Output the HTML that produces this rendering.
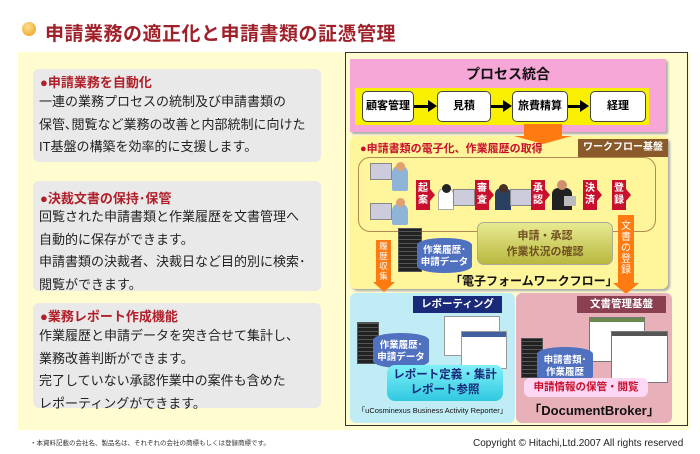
<!DOCTYPE html>
<html><head><meta charset="utf-8"><style>
*{margin:0;padding:0;box-sizing:border-box}
body{width:700px;height:454px;background:#fff;position:relative;overflow:hidden;font-family:"Liberation Sans","Noto Sans CJK JP",sans-serif}
.a{position:absolute}
.gb{background:#e9e9e9;border-radius:6px;left:33px;width:288px}
.h{color:#b0202a;font-weight:bold;font-size:13px;position:absolute;left:7px;white-space:nowrap}
.t{color:#222;font-size:13px;position:absolute;left:6px;line-height:22.5px;white-space:nowrap}
.wb{background:#fff;border:1.5px solid #444;border-radius:5px;font-size:11px;font-weight:bold;text-align:center;line-height:28px;top:91px;height:31px}
.rl{background:#c8102e;color:#fff;font-size:10px;font-weight:bold;width:14px;line-height:12px;text-align:center;padding-top:3px;height:30px;top:180px}
.rl:after{content:"";position:absolute;right:-5px;top:9px;border-left:5px solid #c8102e;border-top:6px solid transparent;border-bottom:6px solid transparent}
.pc{background:#ccd;border:1px solid #888;width:22px;height:17px}
.tw{background:#222;border:1px solid #555;background-image:repeating-linear-gradient(0deg,#222 0 3px,#555 3px 4px)}
</style></head><body>
<div class="a" style="left:22px;top:22px;width:14px;height:14px;border-radius:50%;background:radial-gradient(circle at 40% 35%,#ffe08a,#e89a20)"></div>
<div class="a" style="left:45px;top:19px;font-size:19px;font-weight:bold;color:#a0202a;letter-spacing:0.5px">申請業務の適正化と申請書類の証憑管理</div>
<div class="a" style="left:18px;top:52px;width:672px;height:378px;background:#fffccf"></div>
<div class="a gb" style="top:69px;height:93px"><div class="h" style="top:3px">●申請業務を自動化</div><div class="t" style="top:22px">一連の業務プロセスの統制及び申請書類の<br>保管､閲覧など業務の改善と内部統制に向けた<br>IT基盤の構築を効率的に支援します。</div></div>
<div class="a gb" style="top:181px;height:110px"><div class="h" style="top:7px">●決裁文書の保持･保管</div><div class="t" style="top:25px">回覧された申請書類と作業履歴を文書管理へ<br>自動的に保存ができます。<br>申請書類の決裁者、決裁日など目的別に検索･<br>閲覧ができます。</div></div>
<div class="a gb" style="top:303px;height:105px"><div class="h" style="top:3px">●業務レポート作成機能</div><div class="t" style="top:22px">作業履歴と申請データを突き合せて集計し、<br>業務改善判断ができます。<br>完了していない承認作業中の案件も含めた<br>レポーティングができます。</div></div>
<div class="a" style="left:30px;top:437px;font-size:6.5px;color:#333">・本資料記載の会社名、製品名は、それぞれの会社の商標もしくは登録商標です。</div>
<div class="a" style="left:473px;top:438px;font-size:10px;color:#222">Copyright © Hitachi,Ltd.2007 All rights reserved</div>

<div class="a" style="left:345px;top:52px;width:343px;height:374px;border:1px solid #333;background:#fffccf"></div>
<div class="a" style="left:350px;top:59px;width:316px;height:73px;background:#f7a6d8;box-shadow:2px 2px 2px #aaa"></div>
<div class="a" style="left:350px;top:64px;width:316px;text-align:center;font-size:14px;font-weight:bold;color:#111">プロセス統合</div>
<div class="a" style="left:355px;top:88px;width:294px;height:37px;background:#f8f000"></div>
<div class="a wb" style="left:362px;width:52px">顧客管理</div>
<div class="a wb" style="left:437px;width:54px">見積</div>
<div class="a wb" style="left:512px;width:56px">旅費精算</div>
<div class="a wb" style="left:590px;width:56px">経理</div>
<div class="a" style="left:414px;top:105px;width:16px;height:3px;background:#000"></div><div class="a" style="left:428px;top:100px;border-left:9px solid #000;border-top:6px solid transparent;border-bottom:6px solid transparent"></div>
<div class="a" style="left:491px;top:105px;width:14px;height:3px;background:#000"></div><div class="a" style="left:503px;top:100px;border-left:9px solid #000;border-top:6px solid transparent;border-bottom:6px solid transparent"></div>
<div class="a" style="left:568px;top:105px;width:14px;height:3px;background:#000"></div><div class="a" style="left:580px;top:100px;border-left:9px solid #000;border-top:6px solid transparent;border-bottom:6px solid transparent"></div>

<div class="a" style="left:350px;top:136px;width:318px;height:153px;background:#fff59a;border-radius:6px;box-shadow:2px 2px 2px #aaa"></div>
<div class="a" style="left:524px;top:124px;width:38px;height:14px;background:#ff7a10"></div>
<div class="a" style="left:514px;top:136px;border-top:8px solid #ff7a10;border-left:29px solid transparent;border-right:29px solid transparent"></div>
<div class="a" style="left:360px;top:140px;font-size:11px;font-weight:bold;color:#c8102e">●申請書類の電子化、作業履歴の取得</div>
<div class="a" style="left:578px;top:139px;width:90px;height:18px;background:#8a5a2a;color:#fff;font-size:10px;font-weight:bold;text-align:center;line-height:18px">ワークフロー基盤</div>
<div class="a" style="left:358px;top:157px;width:298px;height:75px;border:1.5px solid #b08a50;border-radius:12px"></div>
<div class="a pc" style="left:370px;top:163px"></div><div class="a" style="left:392px;top:165px;width:16px;height:26px;background:#8fb4d8;border-radius:8px 8px 2px 2px"></div><div class="a" style="left:396px;top:162px;width:9px;height:9px;border-radius:50%;background:#e0a070"></div>
<div class="a pc" style="left:370px;top:203px"></div><div class="a" style="left:392px;top:203px;width:16px;height:22px;background:#8fb4d8;border-radius:8px 8px 2px 2px"></div><div class="a" style="left:396px;top:198px;width:9px;height:9px;border-radius:50%;background:#e0a070"></div>
<div class="a rl" style="left:416px">起案</div>
<div class="a" style="left:438px;top:188px;width:16px;height:22px;background:#fff;border:1px solid #aaa;border-radius:6px 6px 0 0"></div><div class="a" style="left:442px;top:184px;width:9px;height:9px;border-radius:50%;background:#222"></div><div class="a pc" style="left:453px;top:189px"></div>
<div class="a rl" style="left:475px">審査</div>
<div class="a" style="left:495px;top:188px;width:16px;height:22px;background:#2a4060;border-radius:6px 6px 0 0"></div><div class="a" style="left:499px;top:184px;width:9px;height:9px;border-radius:50%;background:#4a3020"></div><div class="a pc" style="left:510px;top:189px"></div>
<div class="a rl" style="left:531px">承認</div>
<div class="a" style="left:552px;top:188px;width:20px;height:22px;background:#222;border-radius:6px 6px 0 0"></div><div class="a" style="left:557px;top:180px;width:10px;height:10px;border-radius:50%;background:#d09070"></div><div class="a" style="left:564px;top:196px;width:12px;height:10px;background:#bbb"></div>
<div class="a rl" style="left:583px">決済</div>
<div class="a rl" style="left:612px">登録</div>
<div class="a" style="left:477px;top:222px;width:136px;height:43px;border-radius:7px;background:linear-gradient(#e8ea90,#b8b840);border:1px solid #aa9;color:#705020;font-size:11px;font-weight:bold;text-align:center;line-height:16px;padding-top:5px">申請・承認<br>作業状況の確認</div>
<div class="a tw" style="left:398px;top:228px;width:24px;height:44px"></div>
<div class="a" style="left:417px;top:238px;width:55px;height:35px;background:#5070c0;border-radius:27px/7px;color:#fff;font-size:9.5px;font-weight:bold;text-align:center;line-height:12px;padding-top:7px">作業履歴･<br>申請データ</div>
<div class="a" style="left:450px;top:272px;font-size:12px;font-weight:bold;color:#111">「電子フォームワークフロー」</div>
<div class="a" style="left:376px;top:240px;width:15px;height:42px;background:#ff7a10;color:#fff;font-size:8.5px;line-height:10px;text-align:center;padding-top:1px">履歴収集</div>
<div class="a" style="left:373px;top:282px;border-top:10px solid #ff7a10;border-left:11px solid transparent;border-right:11px solid transparent"></div>
<div class="a" style="left:618px;top:215px;width:16px;height:68px;background:#ff7a10;color:#fff;font-size:10px;line-height:11px;text-align:center;padding-top:6px">文書の登録</div>
<div class="a" style="left:613px;top:283px;border-top:11px solid #ff7a10;border-left:13px solid transparent;border-right:13px solid transparent"></div>

<div class="a" style="left:350px;top:293px;width:165px;height:130px;background:#c0ecf6;border-radius:6px"></div>
<div class="a" style="left:516px;top:293px;width:156px;height:130px;background:#e8b0b8;border-radius:6px"></div>
<div class="a" style="left:413px;top:296px;width:89px;height:17px;background:#1a2a7a;color:#fff;font-size:10.5px;font-weight:bold;text-align:center;line-height:17px">レポーティング</div>
<div class="a" style="left:577px;top:296px;width:89px;height:17px;background:#8a4050;color:#fff;font-size:10.5px;font-weight:bold;text-align:center;line-height:17px">文書管理基盤</div>
<div class="a" style="left:444px;top:316px;width:56px;height:40px;background:#fff;border:1px solid #999"></div>
<div class="a" style="left:461px;top:331px;width:46px;height:38px;background:#fff;border:1px solid #999;background-image:linear-gradient(#4060a0 0 5px,#fff 5px)"></div>
<div class="a tw" style="left:357px;top:322px;width:22px;height:42px"></div>
<div class="a" style="left:373px;top:333px;width:56px;height:35px;background:#5070c0;border-radius:28px/7px;color:#fff;font-size:9.5px;font-weight:bold;text-align:center;line-height:12px;padding-top:7px">作業履歴･<br>申請データ</div>
<div class="a" style="left:387px;top:365px;width:116px;height:36px;border-radius:8px;background:linear-gradient(#80f0f8,#30c8e0);color:#1a2a7a;font-size:11.5px;font-weight:bold;text-align:center;line-height:15px;padding-top:3px">レポート定義・集計<br>レポート参照</div>
<div class="a" style="left:350px;top:405px;width:165px;text-align:center;font-size:7.5px;color:#111">「uCosminexus Business Activity Reporter」</div>
<div class="a" style="left:589px;top:317px;width:56px;height:45px;background:#fff;border:1px solid #777;background-image:linear-gradient(#6a8a50 0 4px,#fff 4px)"></div>
<div class="a" style="left:611px;top:331px;width:57px;height:52px;background:#fff;border:1px solid #777;background-image:linear-gradient(#555 0 4px,#fff 4px)"></div>
<div class="a tw" style="left:521px;top:338px;width:22px;height:40px"></div>
<div class="a" style="left:537px;top:347px;width:56px;height:36px;background:#5070c0;border-radius:28px/7px;color:#fff;font-size:9.5px;font-weight:bold;text-align:center;line-height:12px;padding-top:8px">申請書類･<br>作業履歴</div>
<div class="a" style="left:524px;top:378px;width:124px;height:19px;border-radius:6px;background:#fcd8f4;color:#c8102e;font-size:10.5px;font-weight:bold;text-align:center;line-height:19px">申請情報の保管・閲覧</div>
<div class="a" style="left:516px;top:400px;width:156px;text-align:center;font-size:13px;font-weight:bold;color:#111">「DocumentBroker」</div>
</body></html>
